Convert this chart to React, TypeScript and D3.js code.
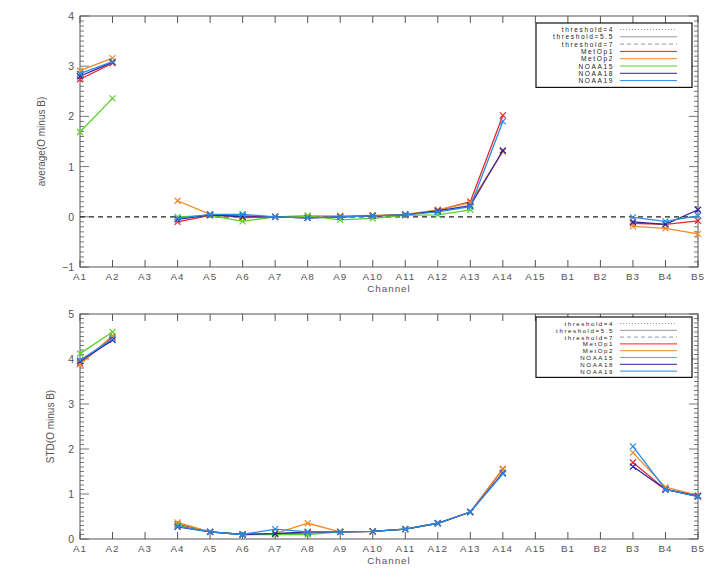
import React from "react";
import * as d3 from "d3";

const channels = ["A1","A2","A3","A4","A5","A6","A7","A8","A9","A10","A11","A12","A13","A14","A15","B1","B2","B3","B4","B5"];
const seriesNames = ["MetOp1","MetOp2","NOAA15","NOAA18","NOAA19"];
const seriesColors = ["#e8262a","#f08a24","#5ad02a","#30209a","#2a8ae8"];
const N = null;
// average(O minus B)
const avgMetOp1 = [2.74,3.06,N,-0.1,0.03,0.02,0,-0.02,0,0.02,0.04,0.13,0.3,2.02,N,N,N,-0.13,-0.15,-0.08];
const avgMetOp2 = [2.91,3.16,N,0.32,0.05,-0.02,0,0.02,0.02,0.03,0.05,0.14,0.28,1.3,N,N,N,-0.19,-0.23,-0.34];
const avgNOAA15 = [1.69,2.36,N,0.0,0.03,-0.09,0,0.02,-0.06,-0.03,0.03,0.04,0.14,N,N,N,N,N,N,N];
const avgNOAA18 = [2.8,3.08,N,-0.05,0.04,0.0,0,-0.02,0,0.02,0.04,0.12,0.22,1.32,N,N,N,-0.1,-0.15,0.14];
const avgNOAA19 = [2.85,3.09,N,-0.03,0.05,0.05,0,-0.02,0,0.02,0.04,0.1,0.2,1.9,N,N,N,-0.01,-0.09,0.02];
// STD(O minus B)
const stdMetOp1 = [3.9,4.48,N,0.33,0.16,0.1,0.12,0.13,0.16,0.17,0.22,0.35,0.6,1.56,N,N,N,1.7,1.1,0.95];
const stdMetOp2 = [3.88,4.52,N,0.37,0.16,0.1,0.12,0.35,0.16,0.17,0.22,0.35,0.6,1.55,N,N,N,1.92,1.15,0.97];
const stdNOAA15 = [4.12,4.6,N,0.3,0.16,0.1,0.1,0.1,0.16,0.17,0.22,0.35,0.6,N,N,N,N,N,N,N];
const stdNOAA18 = [3.95,4.42,N,0.27,0.16,0.1,0.12,0.16,0.16,0.17,0.22,0.35,0.6,1.47,N,N,N,1.61,1.1,0.95];
const stdNOAA19 = [3.97,4.45,N,0.28,0.16,0.1,0.22,0.16,0.16,0.17,0.22,0.35,0.6,1.45,N,N,N,2.06,1.1,0.94];
const avgSeries = [avgMetOp1, avgMetOp2, avgNOAA15, avgNOAA18, avgNOAA19];
const stdSeries = [stdMetOp1, stdMetOp2, stdNOAA15, stdNOAA18, stdNOAA19];
const avgTicks = [-1,0,1,2,3,4];
const stdTicks = [0,1,2,3,4,5];
const thresholdNames = ["threshold=4","threshold=5.5","threshold=7"];
const thresholdDash = ["1,2","","4,3"];

const FONT = "'Liberation Sans', Arial, sans-serif";
const AX = "#555";
const TXT = "#555";

type PanelProps = {
  top: number; bottom: number; domain: [number, number]; ticks: number[];
  data: (number | null)[][]; ylabel: string; ylabelX: number; zeroLine: boolean;
  legendTop: number; legendRow: number; legendFont: number;
};

function Panel(p: PanelProps) {
  const x = d3.scalePoint<string>().domain(channels).range([80, 698]);
  const y = d3.scaleLinear().domain(p.domain).range([p.bottom, p.top]);
  const minor = d3.range(p.domain[0], p.domain[1] + 1e-9, 0.1).map(v => Math.round(v * 10) / 10);
  const line = d3.line<[string, number | null]>()
    .defined(d => d[1] !== null)
    .x(d => x(d[0])!)
    .y(d => y(d[1] as number));
  const left = 80, right = 698;
  const lgX0 = 536, lgX1 = 692;
  const names = [...thresholdNames, ...seriesNames];
  return (
    <g>
      {/* frame */}
      <rect x={left} y={p.top} width={right - left} height={p.bottom - p.top} fill="none" stroke={AX} strokeWidth={1} />
      {/* x ticks */}
      {channels.map(c => (
        <g key={c}>
          <line x1={x(c)} x2={x(c)} y1={p.bottom} y2={p.bottom - 7} stroke={AX} />
          <line x1={x(c)} x2={x(c)} y1={p.top} y2={p.top + 7} stroke={AX} />
          <text x={x(c)} y={p.bottom + 12.5} textAnchor="middle" fontFamily={FONT} fontSize={9.8} letterSpacing={1} fill={TXT}>{c}</text>
        </g>
      ))}
      <text x={389} y={p.bottom + 25} textAnchor="middle" fontFamily={FONT} fontSize={9.8} letterSpacing={1} fill={TXT}>Channel</text>
      {/* y ticks */}
      {minor.map(v => {
        const isMajor = Math.abs(v - Math.round(v)) < 1e-6;
        const len = isMajor ? 9 : 4;
        return (
          <g key={v}>
            <line x1={left} x2={left + len} y1={y(v)} y2={y(v)} stroke={AX} strokeWidth={0.8} />
            <line x1={right} x2={right - len} y1={y(v)} y2={y(v)} stroke={AX} strokeWidth={0.8} />
          </g>
        );
      })}
      {p.ticks.map(t => (
        <text key={t} x={left - 6} y={y(t) + 4} textAnchor="end" fontFamily={FONT} fontSize={10.5} fill={TXT}>{t < 0 ? "\u2212" + Math.abs(t) : t}</text>
      ))}
      <text transform={`translate(${p.ylabelX},${(p.top + p.bottom) / 2}) rotate(-90)`} textAnchor="middle" fontFamily={FONT} fontSize={10} fill={TXT}>{p.ylabel}</text>
      {p.zeroLine && (
        <line x1={left} x2={right} y1={y(0)} y2={y(0)} stroke="#222" strokeWidth={1.3} strokeDasharray="5,4" />
      )}
      {/* series */}
      {p.data.map((vals, i) => {
        const pts = channels.map((c, j) => [c, vals[j]] as [string, number | null]);
        return (
          <g key={i}>
            <path d={line(pts) || ""} fill="none" stroke={seriesColors[i]} strokeWidth={1.3} />
            {pts.filter(d => d[1] !== null).map(d => {
              const cx = x(d[0])!, cy = y(d[1] as number);
              return (
                <path key={d[0]} d={`M${cx - 3},${cy - 3}L${cx + 3},${cy + 3}M${cx - 3},${cy + 3}L${cx + 3},${cy - 3}`} stroke={seriesColors[i]} strokeWidth={1.2} />
              );
            })}
          </g>
        );
      })}
      {/* legend */}
      <rect x={lgX0} y={p.legendTop} width={lgX1 - lgX0} height={p.legendRow * 8 + 6} fill="white" stroke="#111" strokeWidth={1.2} />
      {names.map((n, k) => {
        const ly = p.legendTop + 6.5 + k * p.legendRow;
        const isThr = k < 3;
        return (
          <g key={n}>
            <text x={614} y={ly + 2.5} textAnchor="end" fontFamily={FONT} fontSize={p.legendFont} letterSpacing={1.6} fill="#222">{n}</text>
            <line x1={620} x2={677} y1={ly} y2={ly} stroke={isThr ? "#999" : seriesColors[k - 3]} strokeWidth={1} strokeDasharray={isThr ? thresholdDash[k] : undefined} />
          </g>
        );
      })}
    </g>
  );
}

export default function App() {
  return (
    <svg width={720} height={580} style={{ position: "absolute", left: 0, top: 0, background: "white" }}>
      <Panel top={16} bottom={267} domain={[-1, 4]} ticks={avgTicks} data={avgSeries} ylabel="average(O minus B)" ylabelX={45} zeroLine={true} legendTop={23} legendRow={7.3} legendFont={6.6} />
      <Panel top={314} bottom={539} domain={[0, 5]} ticks={stdTicks} data={stdSeries} ylabel="STD(O minus B)" ylabelX={54} zeroLine={false} legendTop={317} legendRow={6.8} legendFont={6.1} />
    </svg>
  );
}
